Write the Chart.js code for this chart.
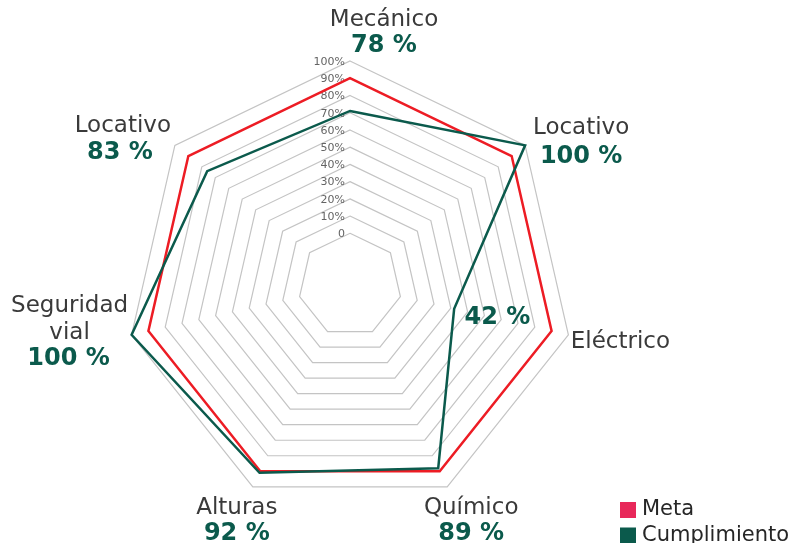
<!DOCTYPE html>
<html lang="es">
<head>
<meta charset="utf-8">
<title>Meta vs Cumplimiento</title>
<script src="https://cdn.jsdelivr.net/npm/chart.js@4/dist/chart.umd.min.js"></script>
<style>
  html, body { margin: 0; padding: 0; background: #fff; }
  #wrap { width: 799px; height: 543px; position: relative; }
</style>
</head>
<body>
<div id="wrap"><canvas id="radar"></canvas></div>
<script>
// Datos del gráfico
const categories = ['Mecánico', 'Locativo', 'Eléctrico', 'Químico', 'Alturas', ['Seguridad', 'vial'], 'Locativo'];
const meta = [90, 90, 90, 90, 90, 90, 90];
const cumplimiento = [71, 100, 32, 88, 91, 100, 76];
const percentLabels = ['78 %', '100 %', '42 %', '89 %', '92 %', '100 %', '83 %'];
const tickMin = -30;
const tickMax = 100;
const tickStep = 10;

// Colores
const RED = '#ed1c24';
const GREEN = '#0b5a4c';
const META_BOX = '#e8285a';

// Desplazamiento de etiquetas respecto al vértice exterior: [nombre dx, dy, porcentaje dx, dy]
const labelOffsets = [
  [34, -41, 34, -15],
  [56, -17, 56, 11],
  [52, 7, -71, -17],
  [24, 21, 24, 47],
  [-16, 21, -16, 47],
  [-62, -29, -63, 24],
  [-52, -19, -55, 7]
];

const FONT = "'DejaVu Sans', 'Open Sans', sans-serif";

// Etiquetas de ticks alineadas a la derecha del eje superior
const tickLabelsPlugin = {
  id: 'tickLabels',
  beforeDatasetsDraw(chart) {
    const scale = chart.scales.r;
    const ctx = chart.ctx;
    ctx.save();
    ctx.font = '11px ' + FONT;
    ctx.fillStyle = '#646464';
    ctx.textAlign = 'right';
    ctx.textBaseline = 'middle';
    scale.ticks.forEach(t => {
      if (t.value < 0) return;
      const d = scale.getDistanceFromCenterForValue(t.value);
      const txt = t.value === 0 ? '0' : t.value + '%';
      ctx.fillText(txt, scale.xCenter - 5, scale.yCenter - d + 1);
    });
    ctx.restore();
  }
};

// Etiquetas de categorías con porcentaje y leyenda
const pointTextPlugin = {
  id: 'pointText',
  afterDraw(chart) {
    const scale = chart.scales.r;
    const ctx = chart.ctx;
    ctx.save();
    ctx.textAlign = 'center';
    ctx.textBaseline = 'middle';
    categories.forEach((cat, i) => {
      const p = scale.getPointPosition(i, scale.drawingArea);
      const off = labelOffsets[i];
      const lines = Array.isArray(cat) ? cat : [cat];
      ctx.font = '23px ' + FONT;
      ctx.fillStyle = '#3a3a3a';
      lines.forEach((ln, j) => {
        ctx.fillText(ln, p.x + off[0], p.y + off[1] + j * 27);
      });
      ctx.font = 'bold 24px ' + FONT;
      ctx.fillStyle = GREEN;
      ctx.fillText(percentLabels[i], p.x + off[2], p.y + off[3]);
    });

    // Leyenda
    const items = chart.data.datasets.map(ds => ({ text: ds.label, color: ds.legendColor }));
    ctx.textAlign = 'left';
    ctx.font = '21px ' + FONT;
    items.forEach((it, k) => {
      const y = 502 + k * 25.5;
      ctx.fillStyle = it.color;
      ctx.fillRect(620, y, 16, 16);
      ctx.fillStyle = '#262626';
      ctx.fillText(it.text, 642, y + 8);
    });
    ctx.restore();
  }
};

new Chart(document.getElementById('radar'), {
  type: 'radar',
  data: {
    labels: categories,
    datasets: [
      {
        label: 'Meta',
        data: meta,
        borderColor: RED,
        legendColor: META_BOX,
        borderWidth: 2.5,
        pointRadius: 0,
        fill: false,
        order: 2
      },
      {
        label: 'Cumplimiento',
        data: cumplimiento,
        borderColor: GREEN,
        legendColor: GREEN,
        borderWidth: 2.5,
        pointRadius: 0,
        fill: false,
        order: 1
      }
    ]
  },
  options: {
    responsive: true,
    maintainAspectRatio: false,
    animation: false,
    layout: { padding: { left: 126, right: 225, top: 61, bottom: 34 } },
    plugins: {
      legend: { display: false },
      tooltip: { enabled: false }
    },
    elements: { line: { tension: 0 } },
    scales: {
      r: {
        min: tickMin,
        max: tickMax,
        angleLines: { display: false },
        pointLabels: { display: false },
        grid: {
          color: ctx => (ctx.tick && ctx.tick.value < 0) ? 'rgba(0,0,0,0)' : '#c4c4c4',
          lineWidth: 1.2
        },
        ticks: { display: false, stepSize: tickStep }
      }
    }
  },
  plugins: [tickLabelsPlugin, pointTextPlugin]
});
</script>
</body>
</html>
